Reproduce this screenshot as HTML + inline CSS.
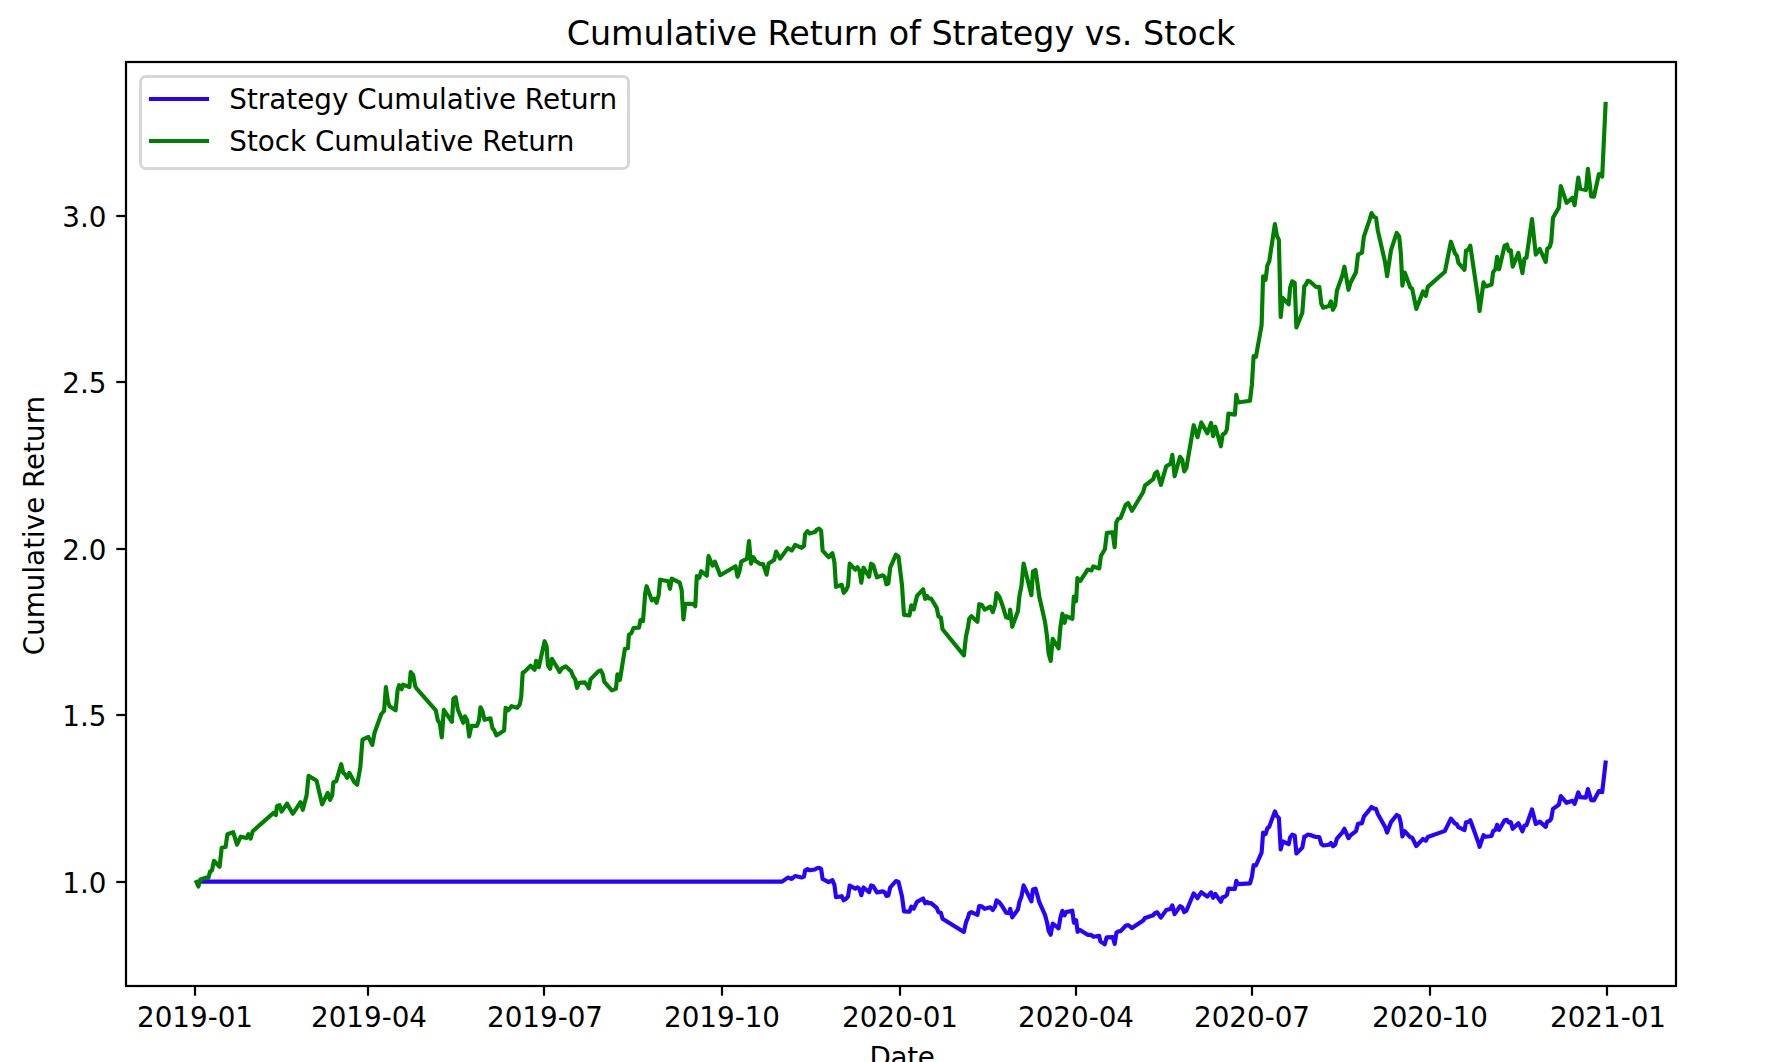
<!DOCTYPE html>
<html lang="en"><head><meta charset="utf-8"><title>Cumulative Return of Strategy vs. Stock</title>
<style>
html,body{margin:0;padding:0;background:#fff;}
body{width:1792px;height:1062px;overflow:hidden;}
svg{display:block;}
text{font-family:"DejaVu Sans","Liberation Sans",sans-serif;fill:#000;}
.tk{font-size:27.78px;}
.ttl{font-size:33.33px;}
</style></head><body>
<svg width="1792" height="1062" viewBox="0 0 1792 1062">
<rect x="0" y="0" width="1792" height="1062" fill="#ffffff"/>

<g fill="none" stroke-width="4.17" stroke-linejoin="round" stroke-linecap="square">
<polyline stroke="#2b00ff" points="201.3,881.6 782.1,881.6 787.7,877.6 791.7,878.9 795.2,876.0 801.6,877.5 804.0,876.6 805.1,870.5 807.5,869.1 809.6,870.3 814.9,869.5 816.9,868.3 819.1,867.8 821.1,868.8 822.6,879.0 828.6,882.2 832.4,880.2 834.4,884.8 836.0,897.2 841.7,896.2 843.7,900.2 846.2,898.7 848.0,896.7 849.7,885.5 855.3,888.6 857.5,887.3 859.5,889.1 861.3,895.2 863.5,887.5 869.1,892.1 871.1,885.5 873.3,886.3 876.9,892.4 882.9,891.4 884.9,892.4 886.4,895.9 888.4,895.4 890.2,887.5 895.9,881.0 898.5,882.0 902.0,896.4 904.0,911.4 909.5,911.7 911.3,906.6 913.7,908.6 917.0,901.8 923.1,898.5 925.1,903.3 927.1,901.8 928.6,903.1 931.1,903.1 936.7,907.8 938.5,912.3 940.9,912.7 942.5,918.7 963.9,931.9 966.0,922.2 968.0,917.7 969.2,913.4 971.4,912.1 977.4,914.9 979.2,906.0 981.7,906.3 984.7,908.8 990.3,907.3 992.8,910.0 995.1,906.3 996.5,900.4 999.3,902.2 1002.1,906.0 1006.1,912.6 1009.3,913.1 1010.2,908.8 1012.2,917.4 1017.9,909.5 1019.4,902.0 1021.4,896.8 1023.6,885.4 1031.4,901.4 1032.9,889.5 1035.5,888.7 1037.5,895.6 1039.3,902.2 1045.0,914.9 1047.0,922.2 1048.7,931.1 1050.7,934.7 1052.7,923.5 1058.6,928.3 1060.4,917.7 1062.4,910.8 1064.6,915.4 1066.1,912.1 1072.3,910.7 1073.9,922.8 1076.1,920.3 1077.6,931.8 1079.6,929.8 1087.6,934.8 1091.1,934.8 1093.6,936.8 1099.2,935.8 1100.4,941.4 1104.7,944.4 1106.7,937.3 1112.7,937.1 1114.7,943.9 1116.4,932.8 1118.3,931.4 1120.6,931.1 1125.7,925.7 1128.2,925.0 1132.0,928.1 1143.2,920.5 1145.0,917.9 1153.3,915.3 1154.9,913.1 1157.1,912.3 1160.9,917.6 1166.2,910.1 1170.6,909.0 1172.3,905.4 1174.6,914.1 1180.0,906.2 1182.2,907.4 1184.2,912.1 1186.4,910.7 1193.7,893.3 1197.5,898.2 1201.3,892.2 1207.3,896.6 1211.1,892.4 1213.1,897.8 1215.3,893.9 1220.9,901.9 1222.6,897.2 1225.4,896.4 1226.9,894.9 1228.4,888.6 1234.9,889.0 1236.3,880.9 1238.0,884.1 1250.0,883.4 1251.9,876.7 1253.6,865.2 1255.9,865.5 1261.6,852.6 1263.1,832.7 1265.6,834.1 1267.3,828.4 1269.3,826.6 1274.9,811.4 1276.9,816.1 1278.9,818.0 1280.7,849.3 1282.7,841.5 1288.7,844.1 1290.2,837.2 1292.2,834.7 1294.7,835.4 1296.4,853.5 1302.3,847.6 1304.3,836.8 1305.8,836.2 1307.8,834.5 1310.3,835.0 1315.8,837.0 1319.3,837.0 1321.3,843.9 1323.2,845.5 1329.0,844.8 1330.9,842.9 1332.9,846.3 1335.2,844.6 1336.9,838.6 1342.4,832.3 1344.4,828.8 1348.5,838.2 1350.5,835.4 1356.0,831.1 1358.0,823.9 1362.0,823.1 1363.8,816.7 1369.4,809.9 1371.5,807.0 1374.1,808.6 1376.0,808.9 1377.8,814.0 1385.1,827.0 1387.1,832.6 1391.0,822.1 1396.7,815.0 1399.2,816.6 1400.9,823.6 1402.4,836.5 1404.7,831.2 1410.1,837.1 1412.2,837.8 1416.3,846.0 1423.0,838.9 1425.8,840.7 1427.8,837.0 1444.9,830.9 1450.9,818.6 1454.9,823.4 1456.9,824.4 1458.4,827.2 1464.5,830.1 1466.0,822.3 1468.3,821.9 1470.3,820.3 1478.5,843.0 1479.6,846.8 1483.5,835.2 1485.6,836.8 1491.6,836.0 1493.1,831.1 1495.4,829.9 1497.1,824.8 1499.1,829.9 1504.6,820.3 1507.0,819.8 1508.6,822.3 1510.8,822.1 1512.7,828.8 1518.4,823.2 1522.4,831.4 1524.5,825.5 1526.5,825.1 1532.0,809.4 1535.8,823.9 1539.8,821.6 1545.7,826.9 1547.2,821.6 1549.7,820.7 1551.2,818.7 1553.0,808.9 1558.8,804.8 1560.8,796.0 1566.6,802.8 1572.4,800.8 1574.6,803.8 1578.3,792.5 1580.2,797.1 1585.9,797.6 1587.9,789.0 1591.2,800.2 1594.0,800.3 1598.9,791.1 1602.2,792.1 1605.6,762.6"/>
<polyline stroke="#008000" points="196.5,882.0 198.4,886.5 200.4,879.4 206.4,877.6 208.4,877.9 210.1,871.6 212.0,870.4 213.9,860.8 219.6,866.8 221.7,847.8 225.6,847.0 227.4,834.2 233.2,832.2 237.0,844.7 240.7,836.7 246.7,838.0 248.4,834.2 250.6,838.7 252.7,831.2 273.9,812.6 275.8,815.1 277.0,806.1 279.5,805.1 281.6,811.6 287.0,803.6 292.8,813.8 300.5,802.2 302.8,809.8 306.6,795.4 308.6,775.8 316.6,780.8 322.1,804.4 327.7,792.9 330.0,799.9 332.2,795.4 333.4,782.3 336.2,781.3 341.2,764.2 343.2,772.8 345.2,774.3 347.1,777.8 349.3,772.8 354.3,782.3 357.1,784.8 360.3,767.3 362.5,739.6 368.3,736.9 372.3,744.8 374.5,733.0 381.3,714.0 384.1,710.8 385.9,687.2 388.1,702.2 389.6,706.2 395.6,710.3 397.6,690.2 399.1,685.2 401.6,689.2 403.1,684.7 409.4,687.0 410.7,672.1 413.2,675.1 415.2,686.2 416.7,688.7 435.8,710.3 437.8,720.3 439.8,723.3 441.8,737.4 443.8,709.8 451.9,721.8 453.4,698.7 455.6,697.2 457.9,709.8 463.2,722.8 464.9,716.3 467.2,720.3 469.2,736.4 471.4,725.8 477.0,725.8 479.0,720.3 480.5,707.3 482.5,711.3 484.5,719.8 490.5,718.3 492.5,728.3 494.0,729.9 496.4,735.4 504.1,730.4 505.6,707.8 508.1,710.3 511.6,706.2 517.1,707.8 519.7,704.7 521.2,697.2 522.7,672.6 524.7,671.6 530.6,665.7 534.6,669.8 536.1,660.9 538.8,667.2 540.6,659.0 544.6,641.2 546.6,646.2 547.9,665.3 550.1,668.8 551.9,658.8 557.1,667.3 559.6,671.9 561.9,668.3 565.7,666.3 571.2,671.4 573.2,676.4 575.2,679.4 577.0,687.9 579.2,682.9 584.7,682.4 587.3,685.4 588.8,688.4 590.5,679.4 598.3,671.4 600.8,670.4 602.8,674.4 604.3,681.9 611.9,690.4 615.9,688.9 617.4,674.4 619.9,679.9 624.9,648.8 627.9,648.3 628.9,634.7 631.3,633.3 633.5,628.0 639.0,627.6 640.5,620.0 643.0,621.2 645.2,593.5 646.6,586.2 651.9,600.4 654.4,598.7 656.6,602.7 658.7,595.0 660.1,579.7 668.2,581.2 670.0,588.8 671.7,578.7 679.7,582.7 681.7,590.3 683.4,619.5 685.3,603.9 693.0,603.9 695.3,606.2 696.8,576.2 699.3,577.7 701.1,571.2 706.8,575.7 708.5,556.1 712.6,565.7 714.9,561.6 720.2,575.2 735.5,566.2 737.5,576.7 739.5,571.2 741.3,561.6 747.0,558.6 749.0,541.0 751.0,563.6 753.3,557.1 755.6,561.1 760.6,564.2 763.1,564.2 766.6,574.7 768.6,563.6 774.1,560.1 776.1,551.6 780.2,558.6 787.7,548.1 791.7,550.6 795.2,544.9 801.6,547.8 804.0,546.1 805.1,534.0 807.5,531.2 809.6,533.6 814.9,532.1 816.9,529.6 819.1,528.6 821.1,530.6 822.6,550.7 828.6,557.2 832.4,553.2 834.4,562.2 836.0,586.8 841.7,584.8 843.7,592.8 846.2,589.8 848.0,585.8 849.7,563.7 855.3,569.7 857.5,567.2 859.5,570.7 861.3,582.8 863.5,567.7 869.1,576.8 871.1,563.7 873.3,565.2 876.9,577.3 882.9,575.3 884.9,577.3 886.4,584.3 888.4,583.3 890.2,567.7 895.9,554.7 898.5,556.7 902.0,585.3 904.0,614.9 909.5,615.4 911.3,605.4 913.7,609.4 917.0,595.9 923.1,589.3 925.1,598.9 927.1,595.9 928.6,598.4 931.1,598.5 936.7,607.8 938.5,616.6 940.9,617.4 942.5,629.3 963.9,655.4 966.0,636.3 968.0,627.3 969.2,618.8 971.4,616.2 977.4,621.8 979.2,604.2 981.7,604.7 984.7,609.7 990.3,606.7 992.8,612.2 995.1,604.7 996.5,593.1 999.3,596.7 1002.1,604.2 1006.1,617.3 1009.3,618.3 1010.2,609.7 1012.2,626.8 1017.9,611.2 1019.4,596.2 1021.4,586.1 1023.6,563.5 1031.4,595.2 1032.9,571.6 1035.5,570.0 1037.5,583.6 1039.3,596.7 1045.0,621.8 1047.0,636.3 1048.7,653.9 1050.7,660.9 1052.7,638.8 1058.6,648.4 1060.4,627.3 1062.4,613.7 1064.6,622.8 1066.1,616.2 1072.4,618.8 1073.8,596.7 1076.1,601.2 1077.4,578.1 1080.2,581.1 1087.7,569.5 1091.4,570.5 1093.3,566.4 1099.3,568.4 1100.9,556.0 1104.9,549.3 1106.9,532.8 1112.6,532.3 1114.6,547.3 1116.3,522.2 1118.3,518.7 1120.6,518.0 1125.7,504.7 1128.2,503.1 1132.0,510.7 1143.2,492.0 1145.0,485.5 1153.3,479.2 1154.9,473.7 1157.1,471.8 1160.9,484.8 1166.2,466.4 1170.6,463.8 1172.3,454.8 1174.6,476.3 1180.0,456.8 1182.2,459.8 1184.2,471.4 1186.4,467.9 1193.7,425.2 1197.5,437.2 1201.3,422.4 1207.3,433.2 1211.1,423.0 1213.1,436.2 1215.3,426.7 1220.9,446.3 1222.6,434.7 1225.4,432.7 1226.9,429.2 1228.4,413.6 1234.9,414.6 1236.3,394.8 1238.0,402.5 1250.0,400.8 1251.9,384.4 1253.6,356.2 1255.9,356.8 1261.6,325.1 1263.1,276.3 1265.6,279.8 1267.3,265.7 1269.3,261.2 1274.9,224.0 1276.9,235.6 1278.9,240.1 1280.7,317.0 1282.7,297.9 1288.7,304.4 1290.2,287.3 1292.2,281.3 1294.7,282.8 1296.4,327.5 1302.3,312.8 1304.3,286.3 1305.8,284.8 1307.8,280.8 1310.3,281.8 1315.8,286.8 1319.3,286.8 1321.3,303.9 1323.2,307.7 1329.0,306.0 1330.9,301.4 1332.9,309.8 1335.2,305.4 1336.9,290.8 1342.4,275.3 1344.4,266.7 1348.5,289.8 1350.5,282.8 1356.0,272.3 1358.0,254.7 1362.0,252.7 1363.8,236.9 1369.4,220.3 1371.5,213.1 1374.1,217.1 1376.0,217.8 1377.8,230.4 1385.1,262.3 1387.1,276.1 1391.0,250.2 1396.7,232.9 1399.2,236.7 1400.9,254.0 1402.4,285.6 1404.7,272.6 1410.1,287.1 1412.2,288.9 1416.3,308.9 1423.0,291.5 1425.8,295.9 1427.8,286.9 1444.9,271.8 1450.9,241.7 1454.9,253.3 1456.9,255.8 1458.4,262.8 1464.5,269.8 1466.0,250.7 1468.3,249.7 1470.3,245.7 1478.5,301.5 1479.6,311.0 1483.5,282.4 1485.6,286.4 1491.6,284.4 1493.1,272.3 1495.4,269.3 1497.1,256.8 1499.1,269.3 1504.6,245.8 1507.0,244.5 1508.6,250.8 1510.8,250.3 1512.7,266.6 1518.4,252.9 1522.4,273.1 1524.5,258.6 1526.5,257.6 1532.0,219.1 1535.8,254.6 1539.8,249.0 1545.7,261.9 1547.2,248.9 1549.7,246.9 1551.2,241.8 1553.0,217.7 1558.8,207.7 1560.8,186.1 1566.6,202.8 1572.4,197.8 1574.6,205.2 1578.3,177.6 1580.2,188.7 1585.9,190.1 1587.9,168.8 1591.2,196.5 1594.0,196.6 1598.9,174.0 1602.2,176.5 1605.6,104.0"/>
</g>
<g stroke="#000" stroke-width="2.22" fill="none">
<line x1="195" y1="986" x2="195" y2="995.7"/>
<line x1="368" y1="986" x2="368" y2="995.7"/>
<line x1="544" y1="986" x2="544" y2="995.7"/>
<line x1="722" y1="986" x2="722" y2="995.7"/>
<line x1="900" y1="986" x2="900" y2="995.7"/>
<line x1="1076" y1="986" x2="1076" y2="995.7"/>
<line x1="1252" y1="986" x2="1252" y2="995.7"/>
<line x1="1430" y1="986" x2="1430" y2="995.7"/>
<line x1="1607" y1="986" x2="1607" y2="995.7"/>
<line x1="116.3" y1="216" x2="126" y2="216"/>
<line x1="116.3" y1="382" x2="126" y2="382"/>
<line x1="116.3" y1="549" x2="126" y2="549"/>
<line x1="116.3" y1="715" x2="126" y2="715"/>
<line x1="116.3" y1="882" x2="126" y2="882"/>
<rect x="126" y="62" width="1550" height="924" stroke-linejoin="miter"/>
</g>
<text class="tk" x="195" y="1027.1" text-anchor="middle">2019-01</text>
<text class="tk" x="369" y="1027.1" text-anchor="middle">2019-04</text>
<text class="tk" x="545" y="1027.1" text-anchor="middle">2019-07</text>
<text class="tk" x="722" y="1027.1" text-anchor="middle">2019-10</text>
<text class="tk" x="900" y="1027.1" text-anchor="middle">2020-01</text>
<text class="tk" x="1076" y="1027.1" text-anchor="middle">2020-04</text>
<text class="tk" x="1252" y="1027.1" text-anchor="middle">2020-07</text>
<text class="tk" x="1430" y="1027.1" text-anchor="middle">2020-10</text>
<text class="tk" x="1608" y="1027.1" text-anchor="middle">2021-01</text>
<text class="tk" x="106.5" y="227" text-anchor="end">3.0</text>
<text class="tk" x="106.5" y="393" text-anchor="end">2.5</text>
<text class="tk" x="106.5" y="560" text-anchor="end">2.0</text>
<text class="tk" x="106.5" y="726" text-anchor="end">1.5</text>
<text class="tk" x="106.5" y="893" text-anchor="end">1.0</text>
<text class="ttl" x="901" y="44.6" text-anchor="middle">Cumulative Return of Strategy vs. Stock</text>
<text class="tk" x="902.2" y="1066.5" text-anchor="middle" textLength="65.3" lengthAdjust="spacing">Date</text>
<text class="tk" transform="translate(44,525.5) rotate(-90)" text-anchor="middle">Cumulative Return</text>
<rect x="140.5" y="76.5" width="488" height="92" rx="5.56" ry="5.56" fill="#ffffff" stroke="#d7d7d7" stroke-width="3"/>
<line x1="151" y1="99" x2="207" y2="99" stroke="#2b00ff" stroke-width="4.17" stroke-linecap="square"/>
<line x1="151" y1="141" x2="207" y2="141" stroke="#008000" stroke-width="4.17" stroke-linecap="square"/>
<text class="tk" x="229.3" y="108.6" textLength="387.8" lengthAdjust="spacing">Strategy Cumulative Return</text>
<text class="tk" x="229.3" y="150.9">Stock Cumulative Return</text>
</svg>
</body></html>
